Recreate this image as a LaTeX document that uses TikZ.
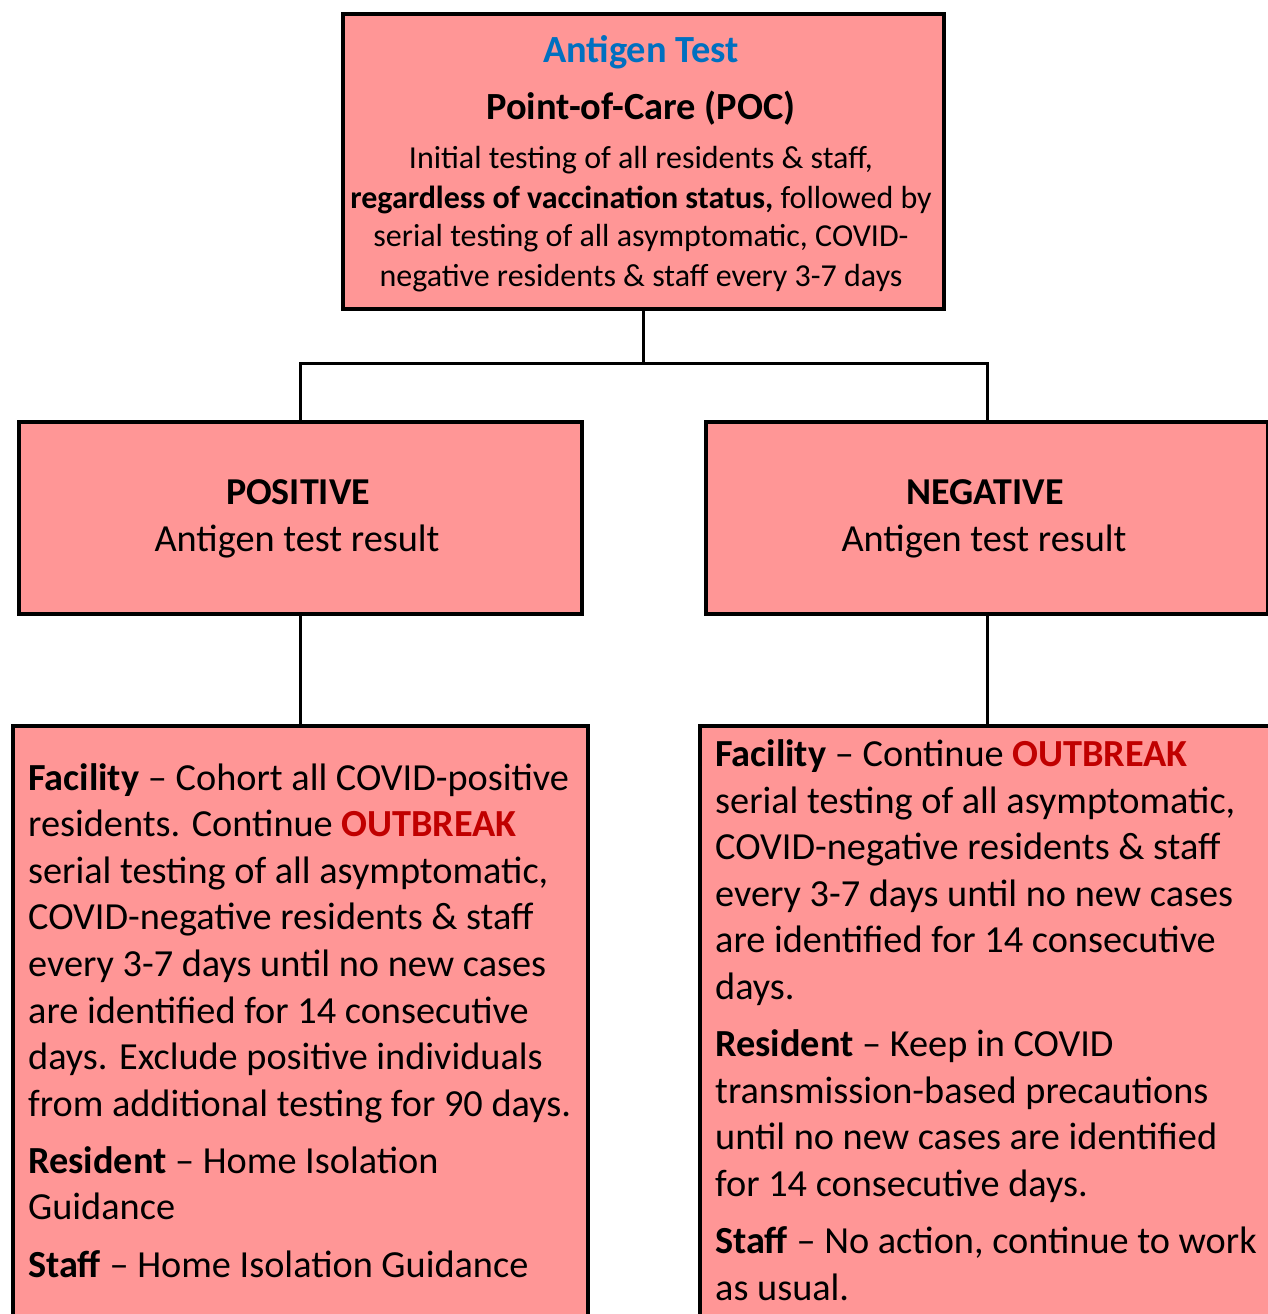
\documentclass[tikz,border=0pt]{standalone}
\usepackage{fontspec}
\setmainfont{Carlito}
\definecolor{boxpink}{RGB}{255,150,150}
\definecolor{titleblue}{RGB}{0,112,192}
\definecolor{alertred}{RGB}{192,0,0}
\begin{document}
\begin{tikzpicture}[x=1pt,y=-1pt,
  box/.style={draw=black,line width=4pt,fill=boxpink,rectangle,inner sep=0pt,anchor=north west},
  conn/.style={draw=black,line width=3pt},
  txt/.style={inner sep=0pt,anchor=base},
  blk/.style={inner sep=0pt,anchor=base west,align=left,font=\fontsize{38.3}{46.6}\selectfont}]
\useasboundingbox (0,0) rectangle (1268,1314);
\clip (0,0) rectangle (1268,1314);
% boxes
\node[box,minimum width=601pt,minimum height=295pt] (top) at (341,12) {};
\node[box,minimum width=563pt,minimum height=192pt] (pos) at (17,420) {};
\node[box,minimum width=562pt,minimum height=192pt] (neg) at (704,420) {};
\node[box,minimum width=575pt,minimum height=640pt] (bl) at (11,724) {};
\node[box,minimum width=600pt,minimum height=640pt] (br) at (698,724) {};
% connectors
\coordinate (lvl) at (0,363);
\coordinate (split) at (top.south |- lvl);
\draw[conn] (top.south) -- (split);
\draw[conn] (pos.north) |- (split) -| (neg.north);
\draw[conn] (pos.south) -- (bl.north);
\draw[conn] (neg.south) -- (neg.south |- br.north);
% top text
\node[txt,font=\fontsize{38.4}{44}\selectfont\bfseries,text=titleblue] (t1) at (641,63) {Antigen Test};
\node[txt,font=\fontsize{38.4}{44}\selectfont\bfseries] (t2) at (641,119) {Point-of-Care (POC)};
\node[txt,font=\fontsize{32}{39}\selectfont] (t3) at (641,168) {Initial testing of all residents \& staff,};
\node[txt,font=\fontsize{32}{39}\selectfont] (t4) at (641,208) {\textbf{regardless of vaccination status,} followed by};
\node[txt,font=\fontsize{32}{39}\selectfont] (t5) at (641,246) {serial testing of all asymptomatic, COVID-};
\node[txt,font=\fontsize{32}{39}\selectfont] (t6) at (641,286) {negative residents \& staff every 3-7 days};
% middle text
\node[txt,font=\fontsize{38}{46}\selectfont\bfseries] (p1) at (298,504) {POSITIVE};
\node[txt,font=\fontsize{38.3}{46}\selectfont] (p2) at (297,551) {Antigen test result};
\node[txt,font=\fontsize{38}{46}\selectfont\bfseries] (n1) at (985,504) {NEGATIVE};
\node[txt,font=\fontsize{38.3}{46}\selectfont] (n2) at (984,551) {Antigen test result};
% bottom left text (anchored at baseline of last line)
\node[blk] (bltext) at (28,1277) {\textbf{Facility} -- Cohort all COVID-positive\\
residents. Continue \textcolor{alertred}{\textbf{OUTBREAK}}\\
serial testing of all asymptomatic,\\
COVID-negative residents \& staff\\
every 3-7 days until no new cases\\
are identified for 14 consecutive\\
days. Exclude positive individuals\\
from additional testing for 90 days.\\[10.5pt]
\textbf{Resident} -- Home Isolation\\
Guidance\\[10.5pt]
\textbf{Staff} -- Home Isolation Guidance};
% bottom right text (anchored at baseline of last line)
\node[blk] (brtext) at (715,1300) {\textbf{Facility} -- Continue \textcolor{alertred}{\textbf{OUTBREAK}}\\
serial testing of all asymptomatic,\\
COVID-negative residents \& staff\\
every 3-7 days until no new cases\\
are identified for 14 consecutive\\
days.\\[10.5pt]
\textbf{Resident} -- Keep in COVID\\
transmission-based precautions\\
until no new cases are identified\\
for 14 consecutive days.\\[10.5pt]
\textbf{Staff} -- No action, continue to work\\
as usual.};
\end{tikzpicture}
\end{document}
